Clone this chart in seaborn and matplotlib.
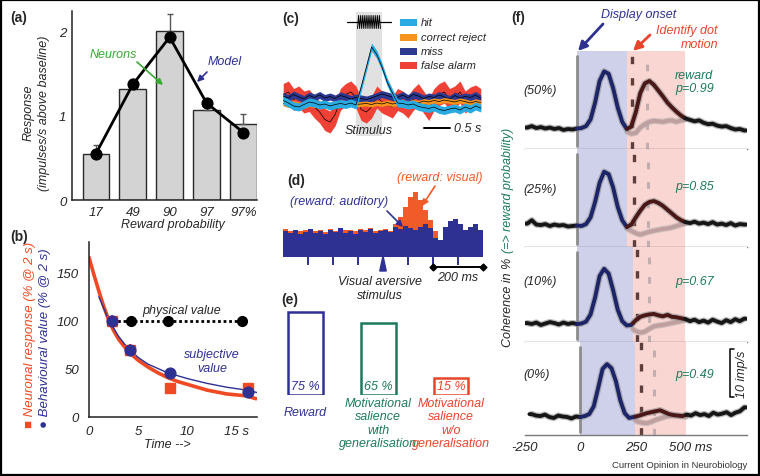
import numpy as np
import pandas as pd
import matplotlib
matplotlib.use("Agg")
import matplotlib.pyplot as plt
import seaborn as sns
from matplotlib.patches import Rectangle, Polygon

# ------------------------------------------------------------------ data
# (a) responses vs reward probability
a_prob = ["17", "49", "90", "97", "97%"]
a_neurons = [0.55, 1.32, 2.00, 1.07, 0.90]
a_err = [0.10, 0.11, 0.20, 0.08, 0.12]
a_model = [0.55, 1.37, 1.93, 1.15, 0.80]

# (b) temporal discounting
b_curve_t = [0, 0.5, 1, 1.5, 2, 2.5, 3, 4, 5, 6, 7, 8, 9, 10, 11, 12, 13, 14, 15, 16, 17]
b_curve_neur = [166, 148, 131, 115, 101, 90, 81, 68, 59, 52, 46, 41, 37, 34, 31, 28, 26, 24, 23, 22, 19]
b_subj_t = [1, 2, 3, 4, 5, 6, 8, 10, 12, 14, 16, 17.3]
b_subj_val = [125, 101, 84, 71, 62, 55, 46, 40, 35, 31, 28, 25]
b_pts_t = [2.3, 4.2, 8.2, 16.2]
b_neur_pts = [100, 70, 30, 30]
b_neur_err = [6, 6, 5.5, 4]
b_behav_pts = [100, 70, 46, 26]
b_phys_t = [2.3, 4.3, 8.0, 15.6]
b_phys_val = [100, 100, 100, 100]

# (c) population responses (s, arbitrary units)
c_t = np.round(np.arange(-1.4, 2.41, 0.1), 1)
c_hit = [0.3, -0.2, -0.8, -1.0, -0.5, 0.0, -0.2, -0.6, -0.4, -0.8,
         -0.5, -0.3, -0.5, -0.2, -0.6, 3.0, 7.0, 11.0, 9.5, 7.0,
         4.0, 1.8, -0.2, -0.3, -0.6, -0.4, -0.9, -1.1, -1.3, -1.0,
         -1.5, -1.7, -1.4, -1.2, -1.6, -1.0, -1.4, -0.8, -1.2]
c_cr = [-0.3, -0.6, -0.2, -0.5, -0.8, -0.4, -0.6, -0.3, -0.7, -0.5,
        -0.2, -0.6, -0.4, -0.3, -0.5, -0.4, -0.3, -0.5, -0.2, -0.4,
        -0.1, -0.4, -0.2, -0.5, -0.3, 0.0, -0.2, 0.2, 0.0, 0.3,
        0.1, 0.4, 0.2, 0.0, 0.3, 0.1, -0.2, 0.1, -0.1]
c_miss = [1.2, 0.8, 1.5, 1.0, 0.6, 1.3, 0.9, 1.4, 0.8, 1.1,
          0.7, 1.3, 1.0, 0.6, 0.9, 0.7, 0.5, 0.8, 1.2, 1.6,
          1.3, 1.0, 0.9, 1.4, 0.8, 1.5, 1.2, 0.7, 1.1, 0.9,
          1.4, 1.0, 0.6, 1.3, 0.8, 1.1, 0.9, 1.4, 0.7]
c_fa = [1.5, 2.0, 0.5, 1.0, 0.0, 0.3, -1.0, -2.0, -3.5, -4.0,
        -2.5, 0.5, 1.5, 2.0, 1.0, -1.5, -2.0, -1.0, 1.0, 0.0,
        -0.5, -1.0, 0.5, 0.0, -1.0, 0.5, 1.5, 0.0, -1.5, 0.5,
        1.5, 2.0, 0.5, 1.0, 2.0, 0.0, 0.8, 1.2, 0.5]
c_names = ["hit", "correct reject", "miss", "false alarm"]
c_halfwidth = [0.8, 0.5, 0.7, 2.2]

# (d) PSTH, 20 ms bins from -400 to 400 ms
d_bin = 20
d_range = (-400, 400)
d_blue = [26, 24, 27, 23, 25, 28, 24, 26, 23, 27,
          25, 29, 24, 26, 23, 27, 25, 28, 24, 26,
          27, 25, 30, 28, 31, 29, 27, 30, 33, 29,
          19, 17, 30, 36, 38, 33, 27, 30, 33, 27]
d_orange = [28, 26, 27, 26, 27, 28, 26, 27, 25, 28,
            26, 29, 27, 27, 26, 28, 27, 29, 26, 27,
            28, 26, 33, 40, 50, 60, 65, 57, 47, 37,
            26, 17, 24, 25, 26, 24, 25, 24, 26, 25]

# (e) proportions of neurons
e_cats = ["Reward", "Motivational\nsalience\nwith\ngeneralisation",
          "Motivational\nsalience\nw/o\ngeneralisation"]
e_vals = [75, 65, 15]

# (f) dot-motion task traces (imp/s re baseline), 20 ms steps
f_t = np.arange(-220, 741, 20)
f_traces = [
    [0.3, 0.6, 0.2, 0.4, 0.1, 0.3, 0.0, 0.2, -0.2, 0.0,
     -0.1, 0.1, 0.2, 0.6, 2.0, 5.5, 10.0, 12.0, 11.5, 8.5,
     4.5, 1.5, 0.0, 0.5, 3.5, 7.5, 9.5, 10.0, 9.2, 8.0,
     6.8, 5.5, 4.5, 3.6, 2.8, 2.2, 1.9, 1.6, 1.8, 1.3,
     1.0, 1.1, 0.7, 0.5, 0.6, 0.2, -0.1, 0.0, -0.3],
    [0.5, 1.2, 0.3, 0.2, 0.4, 0.0, 0.3, 0.1, 0.2, -0.1,
     0.0, 0.1, 0.0, 0.4, 1.8, 5.0, 9.0, 11.3, 10.8, 8.0,
     4.0, 1.2, -0.2, 0.3, 1.8, 3.2, 4.4, 5.0, 5.2, 4.8,
     4.2, 3.4, 2.6, 1.8, 1.2, 0.8, 0.6, 0.9, 0.5, 0.7,
     0.4, 0.8, 0.3, 0.5, 0.2, 0.6, 0.1, 0.4, 0.3],
    [0.2, 0.0, 0.3, -0.2, 0.1, 0.4, 0.2, -0.1, 0.3, 0.0,
     0.2, 0.0, 0.1, 0.5, 2.0, 5.5, 10.0, 11.5, 10.5, 7.0,
     3.0, 0.6, -0.3, -0.2, 0.8, 1.5, 1.8, 2.0, 2.1, 1.8,
     1.6, 1.9, 1.5, 1.4, 1.2, 1.0, 0.6, 0.9, 0.4, 0.7,
     0.3, 0.9, 0.5, 0.2, 0.8, 0.4, 1.0, 0.6, 1.1],
    [0.6, 0.3, 0.2, 0.5, 0.0, -0.2, 0.3, 0.1, 0.0, -0.3,
     0.1, 0.0, 0.2, 0.6, 2.2, 6.0, 10.0, 11.0, 10.2, 7.5,
     3.5, 0.8, -0.2, 0.0, 0.2, 0.5, 0.8, 1.0, 1.2, 1.4,
     1.0, 0.6, 0.4, 0.3, 0.2, 0.5, 0.3, 0.8, 0.4, 0.6,
     0.2, 0.9, 0.5, 0.7, 1.0, 0.4, 0.9, 1.2, 2.0],
]
f_light_t = np.arange(220, 481, 20)
f_light = [
    [-0.5, -1.0, -0.8, 0.3, 1.0, 1.5, 1.7, 1.6, 1.5, 1.7, 1.8, 1.5, 1.8, 2.0],
    [-0.5, -1.0, -1.5, -1.8, -1.5, -1.2, -1.0, -0.8, -0.6, -0.5, -0.3, 0.0, 0.3, 0.5],
    [-0.3, -0.8, -1.5, -1.8, -1.6, -1.0, -0.5, -0.3, -0.2, 0.0, 0.2, 0.4, 0.6, 0.8],
    [-0.2, -0.5, -1.0, -1.2, -1.3, -1.0, -0.6, -0.3, 0.0, 0.2, 0.3, 0.2, 0.1, 0.0],
]
f_labels = ["(50%)", "(25%)", "(10%)", "(0%)"]
f_pvals = ["p=0.99", "p=0.85", "p=0.67", "p=0.49"]
f_pink_start = [221, 221, 248, 248]
f_pink_end = 478
f_dash_dark = [243, 252, 265, 274]
f_dash_light = [310, 314, 319, 332]

# ------------------------------------------------------------------ style
sns.set_theme(style="white")
plt.rcParams["font.family"] = ["Liberation Sans", "DejaVu Sans"]
plt.rcParams["font.style"] = "italic"
plt.rcParams["font.size"] = 9
plt.rcParams["axes.linewidth"] = 1.1

NAVY = "#2e3192"
GREEN_A = "#3aaa35"
TEAL = "#1d7b5c"
RED_B = "#ef4a23"
ORANGE_D = "#f15a29"
RED_E = "#e8452c"
C_COLORS = ["#29abe2", "#f7941d", "#2b3990", "#ef4136"]

W, H = 760, 477
fig = plt.figure(figsize=(W / 100, H / 100), dpi=100)
fig.patch.set_facecolor("white")


def add_ax(x0, y0, x1, y1):
    return fig.add_axes([x0 / W, 1 - y1 / H, (x1 - x0) / W, (y1 - y0) / H])


def clean(ax, keep=("left", "bottom")):
    for s in ["left", "right", "top", "bottom"]:
        ax.spines[s].set_visible(s in keep)
        ax.spines[s].set_color("#222222")


# ------------------------------------------------------------------ (a)
axA = add_ax(72, 12, 257, 201)
sns.barplot(x=a_prob, y=a_neurons, order=a_prob, color="#d3d3d3", saturation=1,
            edgecolor="#2a2a2a", linewidth=1.0, width=0.73, errorbar=None, ax=axA)
axA.errorbar(np.arange(len(a_prob)), a_neurons, yerr=[np.zeros(len(a_err)), a_err],
             fmt="none", ecolor="#555555", elinewidth=1.0, capsize=2.5, capthick=1, zorder=3)
sns.lineplot(x=np.arange(len(a_prob)), y=a_model, color="black", lw=2.0, marker="o",
             markersize=8, markeredgecolor="black", ax=axA, zorder=5)
axA.set_xlim(-0.65, 4.37)
axA.set_ylim(0, 2.24)
axA.set_yticks([0, 1, 2])
axA.set_xlabel("")
axA.set_ylabel("")
clean(axA)
axA.tick_params(axis="both", length=0, labelsize=9.5)
axA.tick_params(axis="y", pad=4)
axA.tick_params(axis="x", pad=4)

# ------------------------------------------------------------------ (b)
axB = add_ax(89, 243, 257, 418)
sns.lineplot(x=b_curve_t, y=b_curve_neur, color=RED_B, lw=2.6, ax=axB)
sns.lineplot(x=b_subj_t, y=b_subj_val, color=NAVY, lw=1.0, ax=axB)
axB.plot(b_phys_t, b_phys_val, ls=(0, (1, 1)), color="black", lw=2.0,
         marker="o", ms=7, zorder=4)
axB.errorbar(b_pts_t, b_neur_pts, yerr=b_neur_err, fmt="s", color=RED_B, ms=6.5,
             elinewidth=1.5, capsize=0, zorder=5)
sns.scatterplot(x=b_pts_t, y=b_behav_pts, color=NAVY, s=65, edgecolor=NAVY, ax=axB, zorder=6)
axB.set_xlim(0, 17.1)
axB.set_ylim(0, 182)
axB.set_xticks([0, 5, 10, 15])
axB.set_xticklabels(["0", "5", "10", "15 s"])
axB.set_yticks([0, 50, 100, 150])
clean(axB)
axB.tick_params(axis="both", length=0, labelsize=9.5)
axB.tick_params(axis="y", pad=7)
axB.tick_params(axis="x", pad=6)

# ------------------------------------------------------------------ (c)
axC = add_ax(283.2, 13, 481.8, 137)
axC.set_xlim(-1.4, 2.42)
axC.set_ylim(-6.8, 18)
axC.axis("off")
axC.axvspan(0, 0.5, color="#e1e1e1", zorder=0, lw=0)
order = [3, 2, 1, 0]          # false alarm, miss, correct reject, hit (top)
series = [c_hit, c_cr, c_miss, c_fa]
for k in order:
    y = np.asarray(series[k])
    w = c_halfwidth[k]
    axC.fill_between(c_t, y - w, y + w, color=C_COLORS[k], lw=0, zorder=1 + order.index(k))
    axC.plot(c_t, y, color="black", lw=0.5, zorder=1.5 + order.index(k))
stim_on, stim_off, stim_level, stim_amp, n_teeth = 0.0, 0.5, 16.0, 1.3, 11
zx = np.linspace(stim_on + 0.03, stim_off - 0.03, 2 * n_teeth + 1)
zy = stim_level + stim_amp * np.where(np.arange(zx.size) % 2 == 0, -1, 1)
axC.plot([stim_on - 0.17, stim_on + 0.03], [stim_level] * 2, color="black", lw=0.9)
axC.plot([stim_off - 0.03, stim_off + 0.17], [stim_level] * 2, color="black", lw=0.9)
axC.plot(zx, zy, color="black", lw=0.7)
axC.plot([1.31, 1.31 + 0.5], [-5.2, -5.2], color="black", lw=1.4, clip_on=False)
axC.text(1.88, -5.2, "0.5 s", ha="left", va="center", fontsize=9)
axC.text(0.25, -5.6, "Stimulus", ha="center", va="center", fontsize=9)

# ------------------------------------------------------------------ (d)
axD = add_ax(283, 188, 483, 258)
d_centers = np.arange(d_range[0] + d_bin / 2, d_range[1], d_bin)
d_df = pd.DataFrame({"t": d_centers,
                     "visual": np.asarray(d_orange, float),
                     "auditory": np.asarray(d_blue, float)})
sns.histplot(data=d_df, x="t", weights="visual", binwidth=d_bin, binrange=d_range,
             element="step", fill=True, color=ORANGE_D, alpha=1, lw=0, ax=axD)
sns.histplot(data=d_df, x="t", weights="auditory", binwidth=d_bin, binrange=d_range,
             element="step", fill=True, color=NAVY, alpha=1, lw=0, ax=axD)
axD.set_xlim(-400, 400)
axD.set_ylim(0, 70)
axD.set_xlabel("")
axD.set_ylabel("")
clean(axD, keep=())
axD.set_yticks([])
axD.set_xticks([-300, -200, -100, 100, 200, 300])
axD.tick_params(axis="x", bottom=True, length=6, width=1.4, color=NAVY,
                labelbottom=False, direction="out")
axD.add_patch(Polygon([(-13, -14), (13, -14), (0, 1)], closed=True, color=NAVY,
                      clip_on=False, zorder=5))
axD.plot([200, 400], [-10, -10], color="black", lw=1.4, marker="D", ms=3.5, clip_on=False)

# ------------------------------------------------------------------ (e)
axE = add_ax(269, 300, 487.4, 396)
E_COLORS = [NAVY, TEAL, RED_E]
sns.barplot(x=e_cats, y=e_vals, hue=e_cats, palette=E_COLORS, fill=False,
            linewidth=1.8, width=0.48, legend=False, ax=axE)
axE.set_xlim(-0.5, 2.5)
axE.set_ylim(0, 86.7)
axE.axis("off")
e_px = 86.7 / 96.0   # data units per pixel in this axes
for i, (v, col) in enumerate(zip(e_vals, E_COLORS)):
    axE.text(i, 8.0, f"{v} %", ha="center", va="center", color=col, fontsize=9)
axE.text(0, -17 * e_px, e_cats[0], ha="center", va="center", color=NAVY, fontsize=9,
         clip_on=False)
for i in (1, 2):
    for j, line in enumerate(e_cats[i].split("\n")):
        axE.text(i, -(8 + 13.4 * j) * e_px, line, ha="center", va="center",
                 color=E_COLORS[i], fontsize=9, clip_on=False)

# ------------------------------------------------------------------ (f)
tops = [52, 150, 248, 343]
bottoms = [150, 248, 343, 436]
baselines = [130, 227, 325, 418]
px_per_unit = 4.8
for i in range(4):
    ax = add_ax(525, tops[i], 747, bottoms[i])
    ax.set_xlim(-230, 752)
    ax.set_ylim(-(bottoms[i] - baselines[i]) / px_per_unit,
                (baselines[i] - tops[i]) / px_per_unit)
    ax.axvspan(0, f_pink_start[i], color="#cfd1ea", lw=0, zorder=0)
    ax.axvspan(f_pink_start[i], f_pink_end, color="#fad6d2", lw=0, zorder=0)
    ax.axvline(0, ymin=0.03, ymax=0.95, color="#8c8c8c", lw=2.0, zorder=1)
    ax.axvline(f_dash_dark[i], color="#5e3d3d", lw=2.4, ls=(0, (2.2, 4.2)), zorder=1)
    ax.axvline(f_dash_light[i], color="#c2aeae", lw=2.2, ls=(0, (2.2, 4.2)), zorder=1)
    tr = np.asarray(f_traces[i], float)
    lt = np.asarray(f_light[i], float)
    inner = f_light_t[(f_light_t > f_pink_start[i]) & (f_light_t < f_pink_end)]
    lx = np.concatenate([[f_pink_start[i]], inner, [f_pink_end]])
    ly = np.interp(lx, f_light_t, lt)
    ax.plot(lx, ly, color="#aaaaaa", lw=4.4, alpha=0.5, zorder=2)
    ax.plot(lx, ly, color="#bf9f9f", lw=2.8, zorder=2.5)
    ax.plot(f_t, tr, color="#8f8f8f", lw=4.6, alpha=0.6, zorder=3, solid_capstyle="round")
    bounds = [-230, 0, f_pink_start[i], f_pink_end, 752]
    cols = ["#161616", "#1d2468", "#4a1717", "#161616"]
    for (t0, t1), col in zip(zip(bounds[:-1], bounds[1:]), cols):
        mid = f_t[(f_t > t0) & (f_t < t1)]
        sx = np.concatenate([[t0], mid, [t1]])
        sy = np.interp(sx, f_t, tr)
        ax.plot(sx, sy, color=col, lw=2.8, zorder=4, solid_joinstyle="round")
    clean(ax, keep=("bottom",))
    ax.spines["bottom"].set_color("#7a7a7a")
    ax.spines["bottom"].set_linewidth(1.0)
    ax.set_yticks([])
    if i < 3:
        ax.set_xticks([])
    else:
        ax.set_xticks([-250, 0, 250, 500])
        ax.set_xticklabels(["-250", "0", "250", "500 ms"])
        ax.tick_params(axis="x", length=0, pad=4, labelsize=9.5)
        ax.plot([695, 677, 677, 695], [14.2, 14.2, 4.2, 4.2], color="black", lw=1.1,
                clip_on=False, zorder=6)
        ax.text(730, 9.0, "10 imp/s", rotation=90, ha="center", va="center",
                fontsize=9, clip_on=False)

# ------------------------------------------------------------------ overlay
ov = fig.add_axes([0, 0, 1, 1], zorder=20)
ov.set_xlim(0, W)
ov.set_ylim(H, 0)
ov.axis("off")
ov.patch.set_alpha(0)


def T(x, y, s, **kw):
    kw.setdefault("fontsize", 9)
    kw.setdefault("ha", "center")
    kw.setdefault("va", "center")
    ov.text(x, y, s, **kw)


def arrow(x0, y0, x1, y1, col, lw=1.2, ms=9):
    ov.annotate("", xy=(x1, y1), xytext=(x0, y0),
                arrowprops=dict(arrowstyle="-|>", color=col, lw=lw, mutation_scale=ms,
                                shrinkA=0, shrinkB=0))


for lab, x, y in [("(a)", 10, 18), ("(b)", 10, 237), ("(c)", 282, 19),
                  ("(d)", 287, 181), ("(e)", 281, 300), ("(f)", 511, 18)]:
    T(x, y, lab, ha="left", fontsize=10, fontweight="bold", fontstyle="normal")

T(36, 113, "Response\n(impulses/s above baseline)", rotation=90, linespacing=1.35)
T(173, 225, "Reward probability")
T(113, 55, "Neurons", color=GREEN_A)
arrow(137, 63, 163, 86, GREEN_A)
T(225, 62, "Model", color=NAVY)
arrow(207, 73, 197, 83, NAVY)

T(30, 428, "\u25a0 Neuronal response (% @ 2 s)", rotation=90, ha="left",
  rotation_mode="anchor", color=RED_B, fontsize=9.5)
T(45, 428, "\u25cf Behavioural value (% @ 2 s)", rotation=90, ha="left",
  rotation_mode="anchor", color=NAVY, fontsize=9.5)
T(182, 311, "physical value")
T(212, 362, "subjective\nvalue", color=NAVY, linespacing=1.2)
T(167, 445, "Time -->")

for k, (lab, yy) in enumerate(zip(c_names, [23, 38, 52, 66])):
    ov.add_patch(Rectangle((400, yy - 3.5), 17, 7, color=C_COLORS[k], lw=0))
    T(421, yy, lab, ha="left", fontsize=8)

T(440, 178, "(reward: visual)", color=ORANGE_D)
arrow(435, 187, 422, 207, ORANGE_D)
T(339, 202, "(reward: auditory)", color=NAVY)
arrow(387, 212, 403, 228, NAVY)
T(380, 282, "Visual aversive")
T(380, 296, "stimulus")
T(458, 278, "200 ms")

T(639, 15, "Display onset", color=NAVY)
arrow(603, 25, 578, 52, NAVY, lw=2.0, ms=13)
T(718, 31, "Identify dot", color=RED_E, ha="right")
T(718, 45, "motion", color=RED_E, ha="right")
arrow(650, 36, 633, 52, RED_E, lw=2.0, ms=13)
for lab, yy in zip(f_labels, [91, 190, 282, 375]):
    T(523, yy, lab, ha="left")
T(675, 76, "reward", color=TEAL, ha="left")
for p, yy in zip(f_pvals, [89, 187, 282, 375]):
    T(675, yy, p, color=TEAL, ha="left")
T(508, 347, "Coherence in %", rotation=90, ha="left", rotation_mode="anchor")
T(508, 253, "(=> reward probability)", rotation=90, ha="left", rotation_mode="anchor",
  color=TEAL)
T(747, 466, "Current Opinion in Neurobiology", ha="right", fontsize=6.8,
  fontstyle="normal", color="#333333")

ov.add_patch(Rectangle((0.8, 0.8), W - 1.6, H - 1.6, fill=False, ec="black", lw=1.6))

fig.savefig("out.png", dpi=100, facecolor="white")
